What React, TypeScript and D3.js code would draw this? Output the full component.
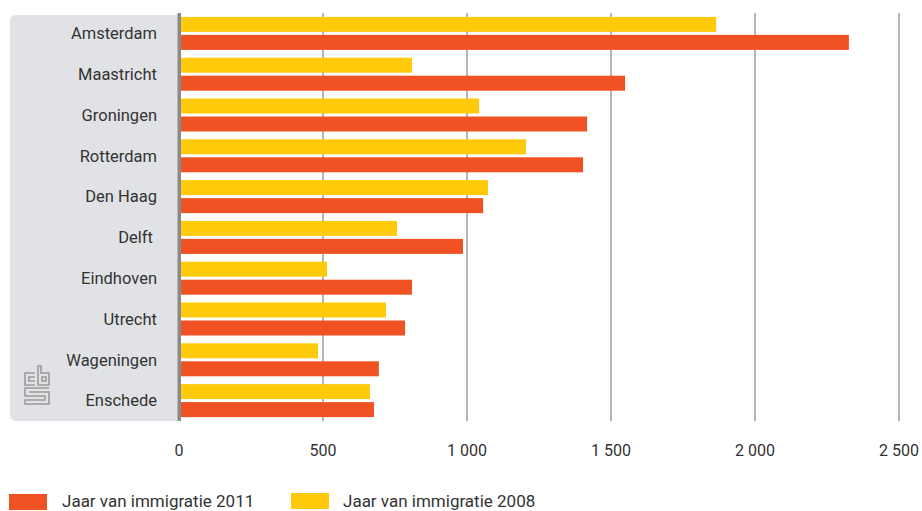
import React from "react";
import * as d3 from "d3";

const cities = ["Amsterdam", "Maastricht", "Groningen", "Rotterdam", "Den Haag", "Delft ", "Eindhoven", "Utrecht", "Wageningen", "Enschede"];
const values2008 = [1865, 809, 1042, 1205, 1073, 757, 514, 719, 483, 663];
const values2011 = [2326, 1549, 1417, 1403, 1056, 986, 809, 785, 694, 677];
const series = ["2008", "2011"];
const seriesLabels = ["Jaar van immigratie 2011", "Jaar van immigratie 2008"];
const ticks = [0, 500, 1000, 1500, 2000, 2500];

const W = 922, H = 511;
const YELLOW = "#ffca0a";
const RED = "#f15224";
const FONT = "Roboto, 'Open Sans', sans-serif";

export default function App() {
  const x = d3.scaleLinear().domain([0, 2500]).range([179, 899]);
  const y = d3.scaleBand<string>().domain(cities).range([13, 421]);
  const groupH = 33;
  const yInner = d3.scaleBand<string>().domain(series).range([0, groupH]).paddingInner(3 / 18);
  const fmt2 = (v: number) => (v >= 1000 ? `${Math.floor(v / 1000)} ${String(v % 1000).padStart(3, "0")}` : String(v));
  const off = (y.bandwidth() - groupH) / 2;

  return (
    <svg width={W} height={H} style={{ position: "absolute", left: 0, top: 0, background: "#fff" }} fontFamily={FONT}>
      {/* label panel */}
      <path d="M181,15 L181,421 L16,421 Q10,421 10,415 L10,21 Q10,15 16,15 Z" fill="#e1e2e5" />
      {/* gridlines */}
      {ticks.slice(1).map((t) => (
        <line key={t} x1={x(t)} x2={x(t)} y1={13} y2={421} stroke="#9d9d9d" strokeWidth={1.5} />
      ))}
      {/* bars */}
      {cities.map((c, i) => {
        const top = (y(c) ?? 0) + off;
        return (
          <g key={c}>
            <rect x={x(0)} y={top + (yInner("2008") ?? 0)} width={x(values2008[i]) - x(0)} height={yInner.bandwidth()} fill={YELLOW} />
            <rect x={x(0)} y={top + (yInner("2011") ?? 0)} width={x(values2011[i]) - x(0)} height={yInner.bandwidth()} fill={RED} />
            <text x={157} y={(y(c) ?? 0) + y.bandwidth() / 2} dy="0.35em" textAnchor="end" fontSize={16.5} fill="#333" style={{ whiteSpace: "pre" }}>
              {c}
            </text>
          </g>
        );
      })}
      {/* axis line */}
      <rect x={177.5} y={13} width={3.5} height={408} fill="#8a8a8c" />
      {/* tick labels */}
      {ticks.map((t) => (
        <text key={t} x={x(t)} y={456} textAnchor="middle" fontSize={16} fill="#333">
          {fmt2(t)}
        </text>
      ))}
      {/* cbs logo */}
      <g fill="none" stroke="#9b9b9b" strokeWidth={1.6}>
        <path d="M35,373 L25,373 L25,385 L35,385 M35,377 L29,377 L29,381 L35,381" />
        <path d="M38,366 L38,385 L49,385 L49,373 L41,373 L41,366 Z M42,377 L46,377 L46,381 L42,381 Z" />
        <path d="M49,388 L25,388 L25,396 L45,396 L45,400 L25,400 L25,404 L49,404 L49,392 L29,392" />
      </g>
      {/* legend */}
      <rect x={9} y={494} width={38} height={16} fill={RED} />
      <text x={62} y={507} fontSize={17} fill="#333">{seriesLabels[0]}</text>
      <rect x={291} y={493} width={38} height={16} fill={YELLOW} />
      <text x={343} y={507} fontSize={17} fill="#333">{seriesLabels[1]}</text>
    </svg>
  );
}
